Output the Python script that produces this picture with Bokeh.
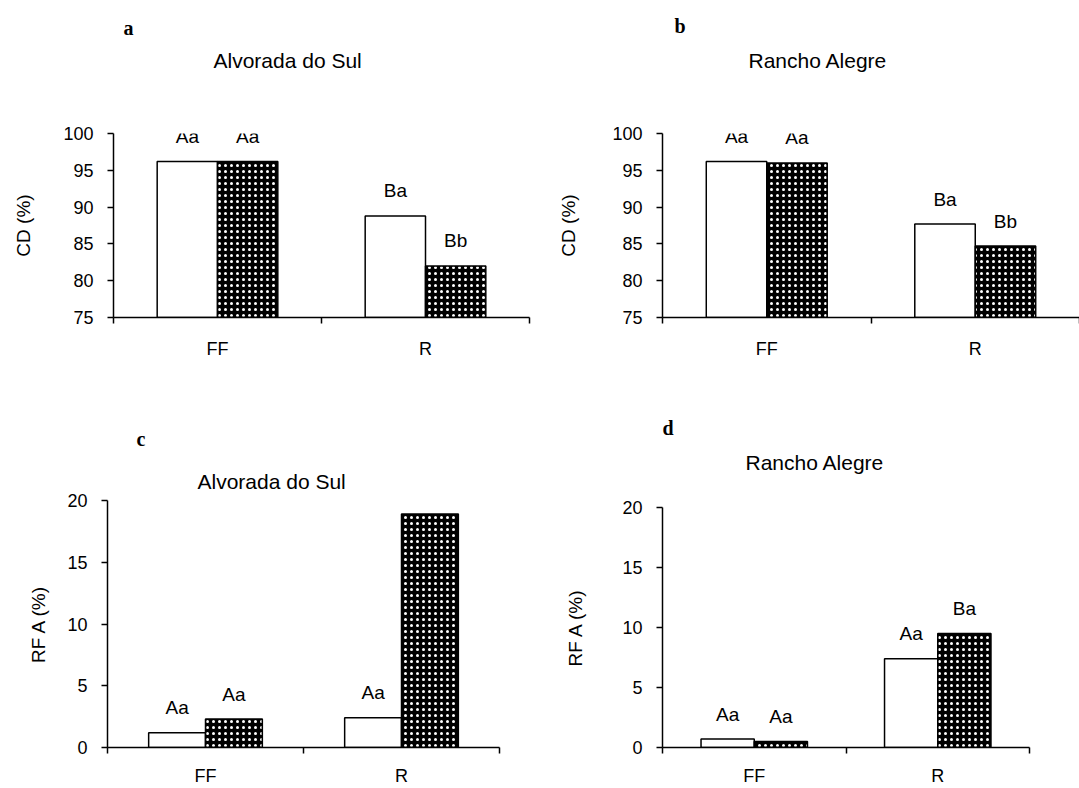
from bokeh.plotting import figure
from bokeh.models import ColumnDataSource, LabelSet, Range1d, FixedTicker, LinearAxis, Title
from bokeh.core.properties import value
from bokeh.layouts import row, column
from bokeh.embed import file_html
from bokeh.resources import INLINE

# ---------------- data ----------------
categories = ["FF", "R"]

cd_ticks = [75, 80, 85, 90, 95, 100]
rfa_ticks = [0, 5, 10, 15, 20]

# a: CD (%) - Alvorada do Sul
cd_alv_white = [96.2, 88.8]
cd_alv_black = [96.2, 82.0]
cd_alv_white_lbl = ["Aa", "Ba"]
cd_alv_black_lbl = ["Aa", "Bb"]

# b: CD (%) - Rancho Alegre
cd_ran_white = [96.2, 87.7]
cd_ran_black = [96.0, 84.7]
cd_ran_white_lbl = ["Aa", "Ba"]
cd_ran_black_lbl = ["Aa", "Bb"]

# c: RFA (%) - Alvorada do Sul
rfa_alv_white = [1.2, 2.4]
rfa_alv_black = [2.3, 18.9]
rfa_alv_white_lbl = ["Aa", "Aa"]
rfa_alv_black_lbl = ["Aa", "Bb"]

# d: RFA (%) - Rancho Alegre
rfa_ran_white = [0.7, 7.4]
rfa_ran_black = [0.5, 9.5]
rfa_ran_white_lbl = ["Aa", "Aa"]
rfa_ran_black_lbl = ["Aa", "Ba"]

FONT = "Liberation Sans"
SERIF = "Liberation Serif"
FS_TICK = "18px"
FS_TEXT = "19px"
FS_TITLE = "21px"
BAR_W = 0.29


def panel(origin, size, frame, yr, yticks, white, black, wlbl, blbl,
          ylabel, ylabel_standoff, xlabel_standoff, letter, letter_off,
          title, title_off, spacer):
    ox, oy = origin
    w, h = size
    fl, ft, fr, fb = frame
    p = figure(width=w, height=h, output_backend="svg", toolbar_location=None,
               x_range=Range1d(0, len(categories)), y_range=Range1d(*yr),
               x_axis_type=None, y_axis_type=None,
               min_border_left=fl - ox, min_border_right=ox + w - fr,
               min_border_top=ft - oy, min_border_bottom=oy + h - fb)
    p.outline_line_color = None
    p.background_fill_color = "white"
    p.border_fill_color = "white"

    idx = list(range(len(categories)))
    xw = [i + 0.5 - BAR_W / 2 for i in idx]
    xb = [i + 0.5 + BAR_W / 2 for i in idx]
    sw = ColumnDataSource(dict(x=xw, top=white, lbl=wlbl))
    sb = ColumnDataSource(dict(x=xb, top=black, lbl=blbl))

    p.vbar(x="x", top="top", bottom=yr[0], width=BAR_W, source=sw,
           fill_color="white", line_color="black", line_width=1.5)
    p.vbar(x="x", top="top", bottom=yr[0], width=BAR_W, source=sb,
           fill_color="black", line_color="black", line_width=1.5,
           hatch_pattern="dot", hatch_color="white", hatch_scale=6,
           hatch_weight=1)

    for s in (sw, sb):
        p.add_layout(LabelSet(x="x", y="top", text="lbl", source=s,
                              y_offset=25, text_align="center",
                              text_baseline="middle", text_font=value(FONT),
                              text_font_size=value(FS_TEXT), text_color="black"))

    xax = LinearAxis(ticker=FixedTicker(ticks=[i + 0.5 for i in idx],
                                        minor_ticks=[0] + [i + 1 for i in idx]),
                     major_label_overrides={i + 0.5: c for i, c in zip(idx, categories)})
    xax.major_tick_line_color = None
    xax.major_tick_out = 0
    xax.major_tick_in = 0
    xax.minor_tick_line_color = "black"
    xax.minor_tick_line_width = 1.5
    xax.minor_tick_out = 6
    xax.minor_tick_in = 0
    xax.axis_line_color = "black"
    xax.axis_line_width = 1.5
    xax.major_label_standoff = xlabel_standoff
    xax.major_label_text_font = FONT
    xax.major_label_text_font_size = FS_TICK
    xax.major_label_text_color = "black"
    p.add_layout(xax, "below")

    yax = LinearAxis(ticker=FixedTicker(ticks=yticks, minor_ticks=[]))
    yax.axis_line_color = "black"
    yax.axis_line_width = 1.5
    yax.major_tick_line_color = "black"
    yax.major_tick_line_width = 1.5
    yax.major_tick_out = 6
    yax.major_tick_in = 0
    yax.minor_tick_line_color = None
    yax.major_label_standoff = 14
    yax.major_label_text_font = FONT
    yax.major_label_text_font_size = FS_TICK
    yax.major_label_text_color = "black"
    yax.axis_label = ylabel
    yax.axis_label_standoff = ylabel_standoff
    yax.axis_label_text_font = FONT
    yax.axis_label_text_font_size = FS_TEXT
    yax.axis_label_text_font_style = "normal"
    yax.axis_label_text_color = "black"
    p.add_layout(yax, "left")

    # optional blank gap between the frame and the place-name title
    if spacer is not None:
        p.add_layout(Title(text=" ", standoff=spacer, text_font=FONT,
                           text_font_size=FS_TITLE), "above")
    # place-name title, then the panel letter above it
    t_off, t_standoff = title_off
    p.add_layout(Title(text=title, align="left", offset=t_off, standoff=t_standoff,
                       text_font=FONT, text_font_size=FS_TITLE,
                       text_font_style="normal", text_color="black"), "above")
    l_off, l_standoff = letter_off
    p.add_layout(Title(text=letter, align="left", offset=l_off, standoff=l_standoff,
                       text_font=SERIF, text_font_size="20px",
                       text_font_style="bold", text_color="black"), "above")
    return p


pa = panel((0, 0), (540, 400), (113, 133, 529, 317), (75, 100), cd_ticks,
           cd_alv_white, cd_alv_black, cd_alv_white_lbl, cd_alv_black_lbl,
           "CD (%)", 26, 15, "a", (10, 15), "Alvorada do Sul", (100, 0), 37)
pb = panel((540, 0), (539, 400), (662, 133, 1079, 317), (75, 100), cd_ticks,
           cd_ran_white, cd_ran_black, cd_ran_white_lbl, cd_ran_black_lbl,
           "CD (%)", 30, 15, "b", (12, 20), "Rancho Alegre", (86, 0), 37)
pc = panel((0, 400), (540, 388), (107, 500, 499, 748), (0, 20), rfa_ticks,
           rfa_alv_white, rfa_alv_black, rfa_alv_white_lbl, rfa_alv_black_lbl,
           "RF A (%)", 15, 12, "c", (29, 20), "Alvorada do Sul", (90, 16), None)
pd_ = panel((540, 400), (539, 388), (662, 507, 1029, 748), (0, 20), rfa_ticks,
            rfa_ran_white, rfa_ran_black, rfa_ran_white_lbl, rfa_ran_black_lbl,
            "RF A (%)", 33, 12, "d", (0, 19), "Rancho Alegre", (83, 0), 9)

layout = column(row(column(pa), column(pb)), row(column(pc), column(pd_)))

with open("out.html", "w") as f:
    f.write(file_html(layout, INLINE))
